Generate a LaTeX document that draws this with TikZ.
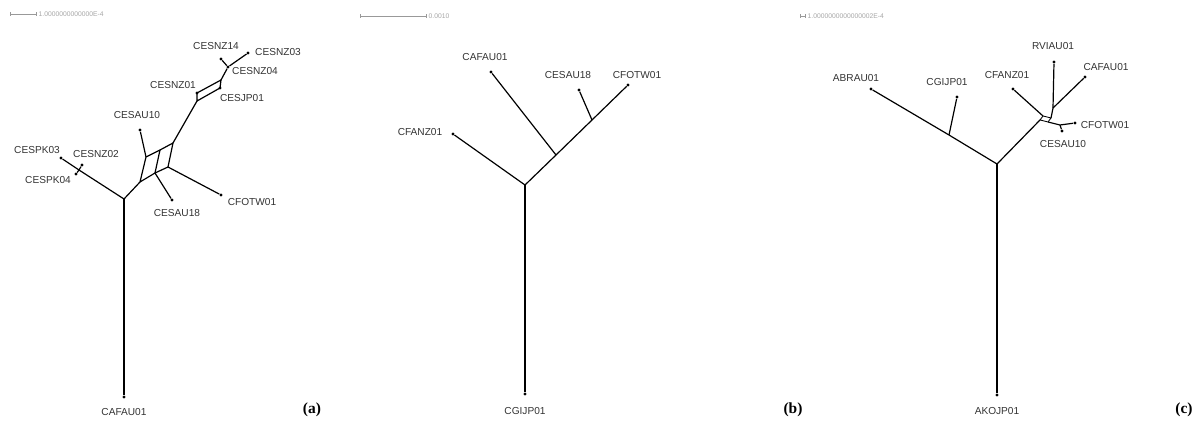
\documentclass[tikz,border=0pt]{standalone}
\usepackage{fontspec}
\setmainfont{Liberation Serif}
\newfontfamily\arialfont{Liberation Sans}
\usepackage{tikz}
\usetikzlibrary{arrows.meta,positioning}

\begin{document}
\begin{tikzpicture}[
    x=0.025cm, y=-0.025cm,
    leaf/.style={
        circle,
        fill=black,
        inner sep=0pt,
        minimum size=0.8mm
    },
    taxon/.style={font=\arialfont\fontsize{7.2}{8.6}\selectfont, text=black!80, inner sep=0pt},
    branch/.style={line width=0.85pt},
    scalebar/.style={draw=black!40, line width=0.4pt, {Bar[width=2.5pt]}-{Bar[width=2.5pt]}},
    scaletext/.style={font=\arialfont\fontsize{4.8}{5}\selectfont, text=black!35, anchor=west, inner sep=1pt},
    panel/.style={font=\bfseries\fontsize{11}{13}\selectfont}
]
\useasboundingbox (0,0) rectangle (1197,440);

% PANEL A

\coordinate (as0) at (10,14);
\coordinate (as1) at (37,14);
\draw[scalebar] (as0) -- (as1);
\node[scaletext] (asl) at (as1) {1.0000000000000E-4};

\coordinate (a-root) at (124,199);
\coordinate (a-pk)   at (79,170);
\coordinate (a-L1) at (146,157);
\coordinate (a-M1) at (160,150);
\coordinate (a-R1) at (173,143);
\coordinate (a-L2) at (140,182);
\coordinate (a-M2) at (155,173);
\coordinate (a-R2) at (168,167);
\coordinate (a-UA) at (221,80);
\coordinate (a-UC) at (197,101);
\coordinate (a-nz) at (228,67);

\node[leaf] (a-CAFAU01) at (124,397) {};
\node[leaf] (a-CESPK03) at (61,158) {};
\node[leaf] (a-CESNZ02) at (82,165) {};
\node[leaf] (a-CESPK04) at (76,174) {};
\node[leaf] (a-CESAU10) at (140,130) {};
\node[leaf] (a-CESAU18) at (172,200) {};
\node[leaf] (a-CFOTW01) at (221,195) {};
\node[leaf] (a-CESNZ01) at (197,93) {};
\node[leaf] (a-CESJP01) at (220,88) {};
\node[leaf] (a-CESNZ04) at (a-nz) {};
\node[leaf] (a-CESNZ14) at (221,59) {};
\node[leaf] (a-CESNZ03) at (248,53) {};

\node[taxon] (a-t1)  at (124,412) {CAFAU01};
\node[taxon] (a-t2)  at (37,150)  {CESPK03};
\node[taxon] (a-t3)  at (96,154)  {CESNZ02};
\node[taxon] (a-t4)  at (48,180)  {CESPK04};
\node[taxon] (a-t5)  at (137,115) {CESAU10};
\node[taxon] (a-t6)  at (177,213) {CESAU18};
\node[taxon] (a-t7)  at (252,202) {CFOTW01};
\node[taxon] (a-t8)  at (173,85)  {CESNZ01};
\node[taxon] (a-t9)  at (242,98)  {CESJP01};
\node[taxon] (a-t10) at (255,71)  {CESNZ04};
\node[taxon] (a-t11) at (216,46)  {CESNZ14};
\node[taxon] (a-t12) at (278,52)  {CESNZ03};

\node[panel] (a-lab) at (312,410) {(a)};

% --- BRANCHES A ---
\draw[branch] (a-root) -- (a-CAFAU01);
\draw[branch] (a-root) -- (a-pk) -- (a-CESPK03);
\draw[branch] (a-pk) -- (a-CESNZ02);
\draw[branch] (a-pk) -- (a-CESPK04);
\draw[branch] (a-root) -- (a-L2);
% split boxes
\draw[branch] (a-L1) -- (a-M1) -- (a-R1) -- (a-R2) -- (a-M2) -- (a-L2) -- cycle;
\draw[branch] (a-M1) -- (a-M2);
\draw[branch] (a-L1) -- (a-CESAU10);
\draw[branch] (a-M2) -- (a-CESAU18);
\draw[branch] (a-R2) -- (a-CFOTW01);
\draw[branch] (a-R1) -- (a-UC);
\draw[branch] (a-UC) -- (a-CESNZ01.center) -- (a-UA) -- (a-CESJP01.center) -- cycle;
\draw[branch] (a-UA) -- (a-CESNZ04);
\draw[branch] (a-CESNZ04) -- (a-CESNZ14);
\draw[branch] (a-CESNZ04) -- (a-CESNZ03);

% PANEL B

\coordinate (bs0) at (360,16);
\coordinate (bs1) at (427,16);
\draw[scalebar] (bs0) -- (bs1);
\node[scaletext] (bsl) at (bs1) {0.0010};

\coordinate (b-root) at (525,185);
\coordinate (b-j1) at (556,155);
\coordinate (b-j2) at (592,120);

\node[leaf] (b-CGIJP01) at (525,394) {};
\node[leaf] (b-CFANZ01) at (453,134) {};
\node[leaf] (b-CAFAU01) at (491,72) {};
\node[leaf] (b-CESAU18) at (579,90) {};
\node[leaf] (b-CFOTW01) at (628,85) {};

\node[taxon] (b-t1) at (525,411) {CGIJP01};
\node[taxon] (b-t2) at (420,132) {CFANZ01};
\node[taxon] (b-t3) at (485,57)  {CAFAU01};
\node[taxon] (b-t4) at (568,75)  {CESAU18};
\node[taxon] (b-t5) at (637,75)  {CFOTW01};

\node[panel] (b-lab) at (793,410) {(b)};

% --- BRANCHES B ---
\draw[branch] (b-root) -- (b-CGIJP01);
\draw[branch] (b-root) -- (b-CFANZ01);
\draw[branch] (b-root) -- (b-j1) -- (b-j2) -- (b-CFOTW01);
\draw[branch] (b-j1) -- (b-CAFAU01);
\draw[branch] (b-j2) -- (b-CESAU18);

% PANEL C

\coordinate (cs0) at (800,16);
\coordinate (cs1) at (806,16);
\draw[scalebar] (cs0) -- (cs1);
\node[scaletext] (csl) at (cs1) {1.0000000000000002E-4};

\coordinate (c-root) at (997,164);
\coordinate (c-j1) at (949,135);
\coordinate (c-b1) at (1040,120);
\coordinate (c-b2) at (1043,116);
\coordinate (c-b3) at (1051,118);
\coordinate (c-b4) at (1048,122);
\coordinate (c-j2) at (1053,108);
\coordinate (c-j3) at (1060,125);

\node[leaf] (c-AKOJP01) at (997,395) {};
\node[leaf] (c-ABRAU01) at (871,89) {};
\node[leaf] (c-CGIJP01) at (957,97) {};
\node[leaf] (c-CFANZ01) at (1013,89) {};
\node[leaf] (c-RVIAU01) at (1054,62) {};
\node[leaf] (c-CAFAU01) at (1085,77) {};
\node[leaf] (c-CFOTW01) at (1075,123) {};
\node[leaf] (c-CESAU10) at (1062,131) {};

\node[taxon] (c-t1) at (997,411)  {AKOJP01};
\node[taxon] (c-t2) at (856,78)   {ABRAU01};
\node[taxon] (c-t3) at (947,82)   {CGIJP01};
\node[taxon] (c-t4) at (1007,75)  {CFANZ01};
\node[taxon] (c-t5) at (1053,46)  {RVIAU01};
\node[taxon] (c-t6) at (1106,67)  {CAFAU01};
\node[taxon] (c-t7) at (1105,125) {CFOTW01};
\node[taxon] (c-t8) at (1063,144) {CESAU10};

\node[panel] (c-lab) at (1184,410) {(c)};

% --- BRANCHES C ---
\draw[branch] (c-root) -- (c-AKOJP01);
\draw[branch] (c-root) -- (c-j1) -- (c-ABRAU01);
\draw[branch] (c-j1) -- (c-CGIJP01);
\draw[branch] (c-root) -- (c-b1);
\draw[line width=0.6pt] (c-b1) -- (c-b2) -- (c-b3) -- (c-b4) -- cycle;
\draw[branch] (c-b2) -- (c-CFANZ01);
\draw[branch] (c-b3) -- (c-j2);
\draw[branch] (c-j2) -- (c-RVIAU01);
\draw[branch] (c-j2) -- (c-CAFAU01);
\draw[branch] (c-b4) -- (c-j3) -- (c-CFOTW01);
\draw[branch] (c-j3) -- (c-CESAU10);

\end{tikzpicture}
\end{document}
